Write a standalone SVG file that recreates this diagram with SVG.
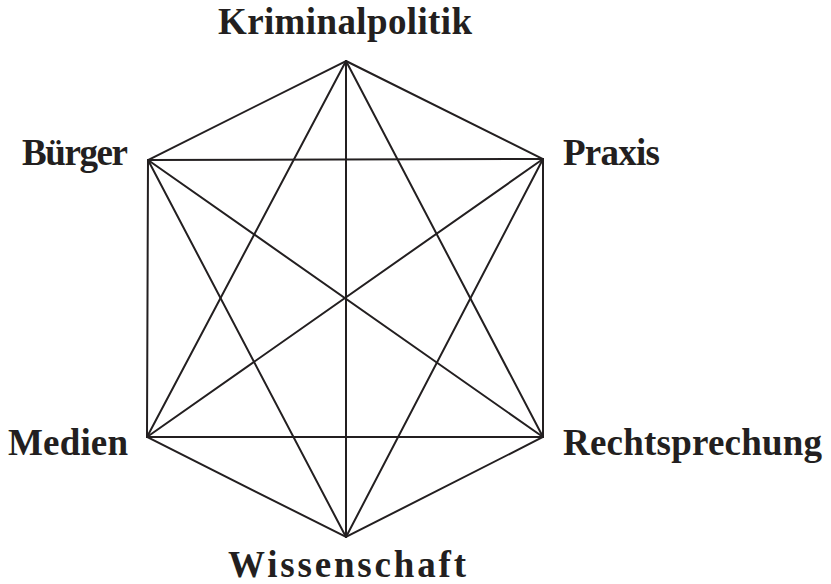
<svg xmlns="http://www.w3.org/2000/svg" width="831" height="584" viewBox="0 0 831 584">
<style>
.l{stroke:#231f20;stroke-width:2;fill:none;stroke-linecap:round}
.t{font-family:"Liberation Serif",serif;font-weight:bold;font-size:37px;fill:#231f20}
</style>
<rect width="831" height="584" fill="#fff"/>
<g id="connectors">
<polygon class="l" points="346,61 543,159 543,437 346,537 147,437 148,160"/>
<line class="l" x1="346" y1="61" x2="346" y2="537"/>
<line class="l" x1="148" y1="160" x2="543" y2="437"/>
<line class="l" x1="147" y1="437" x2="543" y2="159"/>
<line class="l" x1="148" y1="160" x2="543" y2="159"/>
<line class="l" x1="147" y1="437" x2="543" y2="437"/>
<line class="l" x1="346" y1="61" x2="147" y2="437"/>
<line class="l" x1="346" y1="61" x2="543" y2="437"/>
<line class="l" x1="148" y1="160" x2="346" y2="537"/>
<line class="l" x1="543" y1="159" x2="346" y2="537"/>
</g>
<g id="kriminalpolitik"><text class="t" x="218" y="34" textLength="254" lengthAdjust="spacing">Kriminalpolitik</text></g>
<g id="praxis"><text class="t" x="563" y="165" textLength="97" lengthAdjust="spacing">Praxis</text></g>
<g id="rechtsprechung"><text class="t" x="563" y="455" textLength="259" lengthAdjust="spacing">Rechtsprechung</text></g>
<g id="wissenschaft"><text class="t" x="228" y="577" textLength="238" lengthAdjust="spacing">Wissenschaft</text></g>
<g id="medien"><text class="t" x="8" y="455" textLength="120" lengthAdjust="spacing">Medien</text></g>
<g id="buerger"><text class="t" x="22" y="165" textLength="106" lengthAdjust="spacing">Bürger</text></g>
</svg>
